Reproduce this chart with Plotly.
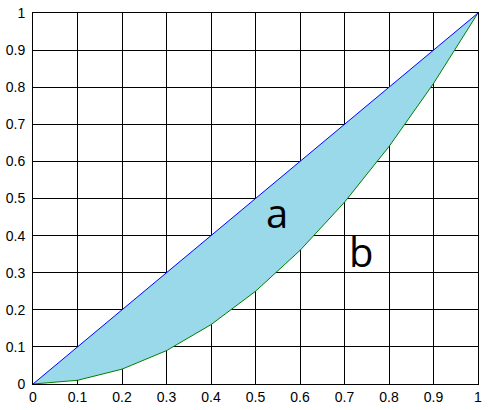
import plotly.graph_objects as go

x_vals = [0, 0.1, 0.2, 0.3, 0.4, 0.5, 0.6, 0.7, 0.8, 0.9, 1.0]
line_eq = [0, 0.1, 0.2, 0.3, 0.4, 0.5, 0.6, 0.7, 0.8, 0.9, 1.0]
curve = [0, 0.01, 0.04, 0.09, 0.16, 0.25, 0.36, 0.49, 0.64, 0.81, 1.0]
tick_vals = [0, 0.1, 0.2, 0.3, 0.4, 0.5, 0.6, 0.7, 0.8, 0.9, 1]
tick_text = ['0', '0.1', '0.2', '0.3', '0.4', '0.5', '0.6', '0.7', '0.8', '0.9', '1']

fig = go.Figure()

# lower curve first, then the equality line filled down to it
fig.add_trace(go.Scatter(
    x=x_vals, y=curve, mode='lines',
    line=dict(color='green', width=1),
))
fig.add_trace(go.Scatter(
    x=x_vals, y=line_eq, mode='lines',
    line=dict(color='blue', width=1),
    fill='tonexty', fillcolor='rgb(153,217,234)',
))

fig.add_annotation(x=0.548, y=0.462, text='a', showarrow=False,
                   font=dict(size=40, color='black', family='Open Sans'))
fig.add_annotation(x=0.737, y=0.356, text='b', showarrow=False,
                   font=dict(size=40, color='black', family='Open Sans'))

axis_style = dict(
    range=[0, 1], tickvals=tick_vals, ticktext=tick_text,
    showgrid=True, gridcolor='black', gridwidth=1,
    showline=True, linecolor='black', linewidth=1, mirror='ticks',
    ticks='inside', ticklen=4, tickcolor='black',
    zeroline=False, ticklabeloverflow='allow',
    tickfont=dict(family='Liberation Sans', size=14, color='black'),
)

fig.update_layout(
    width=489, height=410,
    margin=dict(l=33, r=11, t=5, b=26),
    plot_bgcolor='white', paper_bgcolor='white',
    showlegend=False,
    xaxis=axis_style,
    yaxis=dict(axis_style, ticklabelstandoff=4),
)

# page body has a default 8px margin, drop it so the figure sits at 0,0
fig.write_html("out.html", config={'displayModeBar': False},
               post_script="document.body.style.margin='0';")
